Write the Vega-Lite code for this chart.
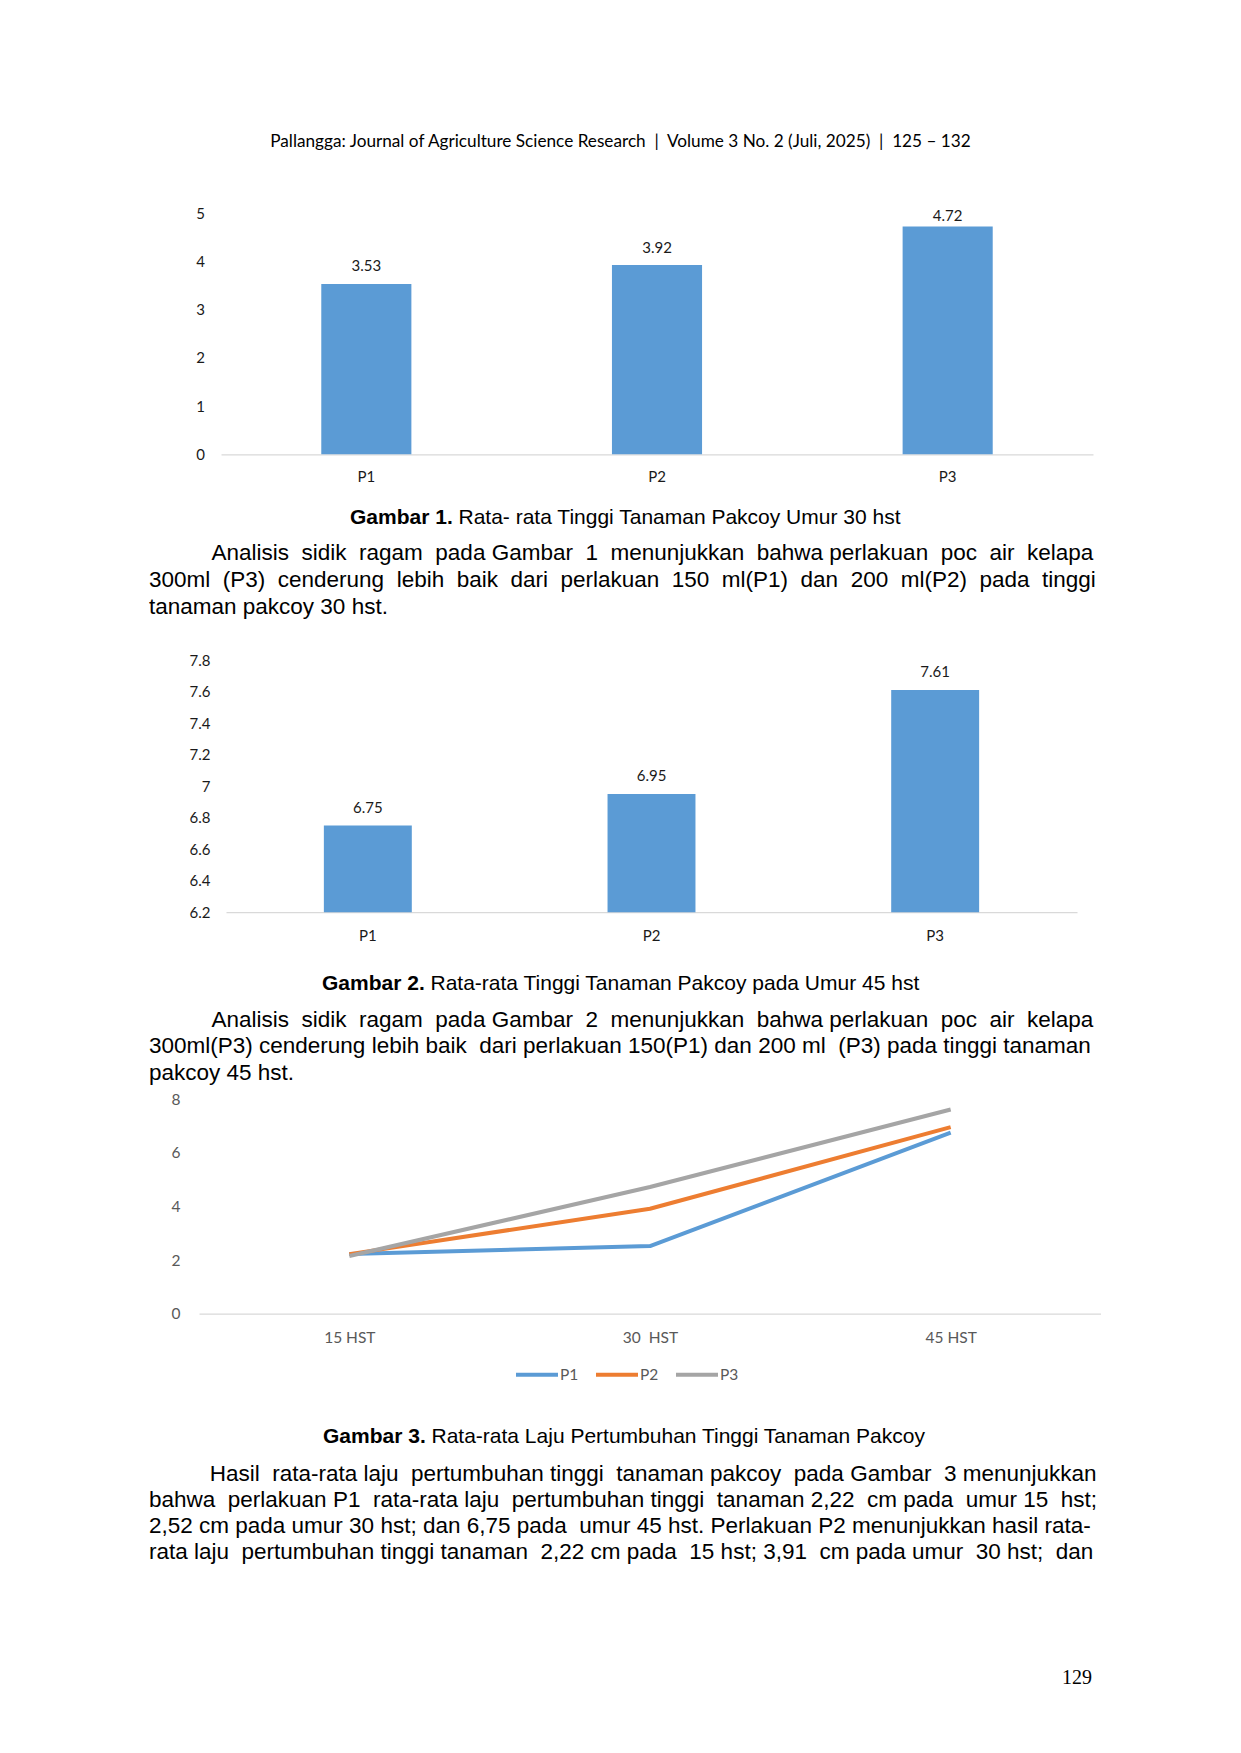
{
  "$schema": "https://vega.github.io/schema/vega-lite/v6.json",
  "background": "white",
  "padding": {"left": 149, "top": 0, "right": 0, "bottom": 65},
  "bounds": "flush",
  "spacing": 0,
  "resolve": {"scale": {"color": "independent"}, "legend": {"color": "independent"}},
  "config": {
    "view": {"stroke": null},
    "font": "Lato",
    "axis": {"grid": false, "ticks": false, "tickSize": 0, "labelFont": "Lato"}
  },
  "vconcat": [
    {
      "width": 943, "height": 212.6,
      "data": {"values": []}, "mark": "point",
      "title": {"text": "Pallangga: Journal of Agriculture Science Research \u00a0|\u00a0 Volume 3 No. 2 (Juli, 2025) \u00a0|\u00a0 125 – 132", "orient": "bottom", "anchor": "middle", "frame": "group", "offset": -80, "baseline": "top", "font": "Lato", "fontSize": 17.2, "fontWeight": "normal", "color": "#000000"}
    },
    {
      "width": 944, "height": 241.3,
      "title": {"text": "Gambar 1.", "orient": "bottom", "anchor": "start", "frame": "group", "offset": 22.3, "dx": 201, "baseline": "top", "font": "Liberation Sans, Arial, sans-serif", "fontSize": 21, "fontWeight": "bold", "color": "#000000"},
      "data": {"values": [
        {"perlakuan": "P1", "tinggi": 3.53},
        {"perlakuan": "P2", "tinggi": 3.92},
        {"perlakuan": "P3", "tinggi": 4.72}
      ]},
      "encoding": {
        "x": {"field": "perlakuan", "type": "nominal", "sort": null,
          "scale": {"range": [72, 944], "paddingInner": 0.69, "paddingOuter": 0.345},
          "axis": {"title": null, "labelAngle": 0, "domainColor": "#D9D9D9", "domainWidth": 1.3, "labelPadding": 15.5, "labelFontSize": 15, "labelColor": "#1a1a1a"}}
      },
      "layer": [
        {"mark": {"type": "bar", "color": "#5B9BD5"},
         "encoding": {"y": {"field": "tinggi", "type": "quantitative",
            "scale": {"domain": [0, 5]},
            "axis": {"title": null, "values": [0, 1, 2, 3, 4, 5], "domain": false, "offset": -72, "labelPadding": 16.5, "labelFontSize": 15, "labelColor": "#1a1a1a"}}}},
        {"mark": {"type": "text", "dy": 3.2, "baseline": "middle", "font": "Lato", "fontSize": 15, "color": "#1a1a1a"},
         "encoding": {
           "y": {"field": "tinggi", "type": "quantitative", "scale": {"domain": [-0.4289, 4.5711], "clamp": true}, "axis": null},
           "text": {"field": "tinggi", "type": "quantitative", "format": ".2f"}}}
      ],
      "resolve": {"scale": {"y": "independent"}}
    },
    {
      "width": 943, "height": 88,
      "data": {"values": []}, "mark": "point",
      "title": {
        "text": "Rata- rata Tinggi Tanaman Pakcoy Umur 30 hst",
        "orient": "bottom", "anchor": "start", "frame": "group", "offset": -36.2, "dx": 309.5, "baseline": "top",
        "font": "Liberation Sans, Arial, sans-serif", "fontSize": 21, "fontWeight": "normal", "color": "#000000"
      }
    },
    {
      "width": 943, "height": 117,
      "data": {"values": []}, "mark": "point",
      "title": {
        "text": [
          "\u200b\u00a0\u00a0\u00a0\u00a0\u00a0\u00a0\u00a0\u00a0\u00a0\u00a0Analisis \u00a0sidik \u00a0ragam \u00a0pada Gambar \u00a01 \u00a0menunjukkan \u00a0bahwa perlakuan \u00a0poc \u00a0air \u00a0kelapa",
          "300ml \u00a0(P3) \u00a0cenderung \u00a0lebih \u00a0baik \u00a0dari \u00a0perlakuan \u00a0150 \u00a0ml(P1) \u00a0dan \u00a0200 \u00a0ml(P2) \u00a0pada \u00a0tinggi",
          "tanaman pakcoy 30 hst."
        ],
        "orient": "bottom", "anchor": "start", "frame": "group", "offset": -118, "baseline": "top", "lineHeight": 26.8,
        "font": "Liberation Sans, Arial, sans-serif", "fontSize": 22.5, "fontWeight": "normal", "color": "#000000"
      }
    },
    {
      "width": 928, "height": 252.2,
      "title": {"text": "Gambar 2.", "orient": "bottom", "anchor": "start", "frame": "group", "offset": 29.2, "dx": 173, "baseline": "top", "font": "Liberation Sans, Arial, sans-serif", "fontSize": 21, "fontWeight": "bold", "color": "#000000"},
      "data": {"values": [
        {"perlakuan": "P1", "tinggi": 6.75},
        {"perlakuan": "P2", "tinggi": 6.95},
        {"perlakuan": "P3", "tinggi": 7.61}
      ]},
      "encoding": {
        "x": {"field": "perlakuan", "type": "nominal", "sort": null,
          "scale": {"range": [77, 928], "paddingInner": 0.69, "paddingOuter": 0.345},
          "axis": {"title": null, "labelAngle": 0, "domainColor": "#D9D9D9", "domainWidth": 1.3, "labelPadding": 16.5, "labelFontSize": 15, "labelColor": "#1a1a1a"}},
        "y": {"field": "tinggi", "type": "quantitative",
          "scale": {"domain": [6.2, 7.8], "zero": false},
          "axis": {"title": null, "values": [6.2, 6.4, 6.6, 6.8, 7, 7.2, 7.4, 7.6, 7.8], "format": "~g", "domain": false, "offset": -77, "labelPadding": 16, "labelFontSize": 15, "labelColor": "#1a1a1a"}}
      },
      "layer": [
        {"mark": {"type": "bar", "color": "#5B9BD5"}, "encoding": {"y2": {"datum": 6.2}}},
        {"mark": {"type": "text", "dy": -18, "baseline": "middle", "font": "Lato", "fontSize": 15, "color": "#1a1a1a"},
         "encoding": {"text": {"field": "tinggi", "type": "quantitative", "format": ".2f"}}}
      ]
    },
    {
      "width": 943, "height": 99.1,
      "data": {"values": []}, "mark": "point",
      "title": {
        "text": "Rata-rata Tinggi Tanaman Pakcoy pada Umur 45 hst",
        "orient": "bottom", "anchor": "start", "frame": "group", "offset": -39.5, "dx": 281.5, "baseline": "top",
        "font": "Liberation Sans, Arial, sans-serif", "fontSize": 21, "fontWeight": "normal", "color": "#000000"
      }
    },
    {
      "width": 943, "height": 85.9,
      "data": {"values": []}, "mark": "point",
      "title": {
        "text": [
          "\u200b\u00a0\u00a0\u00a0\u00a0\u00a0\u00a0\u00a0\u00a0\u00a0\u00a0Analisis \u00a0sidik \u00a0ragam \u00a0pada Gambar \u00a02 \u00a0menunjukkan \u00a0bahwa perlakuan \u00a0poc \u00a0air \u00a0kelapa",
          "300ml(P3) cenderung lebih baik \u00a0dari perlakuan 150(P1) dan 200 ml \u00a0(P3) pada tinggi tanaman",
          "pakcoy 45 hst."
        ],
        "orient": "bottom", "anchor": "start", "frame": "group", "offset": -89.8, "baseline": "top", "lineHeight": 26.3,
        "font": "Liberation Sans, Arial, sans-serif", "fontSize": 22.5, "fontWeight": "normal", "color": "#000000"
      }
    },
    {
      "width": 952, "height": 214.7,
      "title": {"text": "Gambar 3.", "orient": "bottom", "anchor": "start", "frame": "group", "offset": 42.9, "dx": 174, "baseline": "top", "font": "Liberation Sans, Arial, sans-serif", "fontSize": 21, "fontWeight": "bold", "color": "#000000"},
      "data": {"values": [
        {"umur": "15 HST", "perlakuan": "P1", "laju": 2.22},
        {"umur": "30\u00a0 HST", "perlakuan": "P1", "laju": 2.52},
        {"umur": "45 HST", "perlakuan": "P1", "laju": 6.75},
        {"umur": "15 HST", "perlakuan": "P2", "laju": 2.22},
        {"umur": "30\u00a0 HST", "perlakuan": "P2", "laju": 3.91},
        {"umur": "45 HST", "perlakuan": "P2", "laju": 6.95},
        {"umur": "15 HST", "perlakuan": "P3", "laju": 2.15},
        {"umur": "30\u00a0 HST", "perlakuan": "P3", "laju": 4.72},
        {"umur": "45 HST", "perlakuan": "P3", "laju": 7.61}
      ]},
      "mark": {"type": "line", "strokeWidth": 4, "strokeJoin": "round"},
      "encoding": {
        "x": {"field": "umur", "type": "ordinal", "sort": ["15 HST", "30\u00a0 HST", "45 HST"],
          "scale": {"type": "point", "range": [50, 952], "padding": 0.5},
          "axis": {"title": null, "labelAngle": 0, "domainColor": "#D9D9D9", "domainWidth": 1.3, "labelPadding": 17, "labelFontSize": 15.5, "labelColor": "#595959"}},
        "y": {"field": "laju", "type": "quantitative",
          "scale": {"domain": [0, 8]},
          "axis": {"title": null, "values": [0, 2, 4, 6, 8], "domain": false, "offset": -50, "labelPadding": 19, "labelFontSize": 15.5, "labelColor": "#595959"}},
        "color": {"field": "perlakuan", "type": "nominal",
          "scale": {"domain": ["P1", "P2", "P3"], "range": ["#5B9BD5", "#ED7D31", "#A5A5A5"]},
          "legend": {"title": null, "orient": "none", "legendX": 365, "legendY": 252.5, "direction": "horizontal", "symbolType": "stroke", "symbolSize": 1764, "symbolStrokeWidth": 4, "labelFont": "Lato", "labelFontSize": 15.5, "labelColor": "#595959", "labelOffset": 0, "columnPadding": 9, "padding": 0}}
      }
    },
    {
      "width": 943, "height": 152.2,
      "data": {"values": []}, "mark": "point",
      "title": {
        "text": "Rata-rata Laju Pertumbuhan Tinggi Tanaman Pakcoy",
        "orient": "bottom", "anchor": "start", "frame": "group", "offset": -40.7, "dx": 282.5, "baseline": "top",
        "font": "Liberation Sans, Arial, sans-serif", "fontSize": 21, "fontWeight": "normal", "color": "#000000"
      }
    },
    {
      "width": 943, "height": 204.9,
      "data": {"values": []}, "mark": "point",
      "title": {
        "text": [
          "\u200b\u00a0\u00a0\u00a0\u00a0\u00a0\u00a0\u00a0\u00a0\u00a0\u2009Hasil \u00a0rata-rata laju \u00a0pertumbuhan tinggi \u00a0tanaman pakcoy \u00a0pada Gambar \u00a03 menunjukkan",
          "bahwa \u00a0perlakuan P1 \u00a0rata-rata laju \u00a0pertumbuhan tinggi \u00a0tanaman 2,22 \u00a0cm pada \u00a0umur 15 \u00a0hst;",
          "2,52 cm pada umur 30 hst; dan 6,75 pada \u00a0umur 45 hst. Perlakuan P2 menunjukkan hasil rata-",
          "rata laju \u00a0pertumbuhan tinggi tanaman \u00a02,22 cm pada \u00a015 hst; 3,91 \u00a0cm pada umur \u00a030 hst; \u00a0dan"
        ],
        "orient": "bottom", "anchor": "start", "frame": "group", "offset": -209.4, "baseline": "top", "lineHeight": 26.3,
        "font": "Liberation Sans, Arial, sans-serif", "fontSize": 22.5, "fontWeight": "normal", "color": "#000000"
      }
    },
    {
      "width": 943, "height": 20,
      "data": {"values": []}, "mark": "point",
      "title": {"text": "129", "orient": "bottom", "anchor": "end", "frame": "group", "offset": -24.5, "baseline": "top", "font": "Liberation Serif, Times New Roman, serif", "fontSize": 20, "fontWeight": "normal", "color": "#000000"}
    }
  ]
}
